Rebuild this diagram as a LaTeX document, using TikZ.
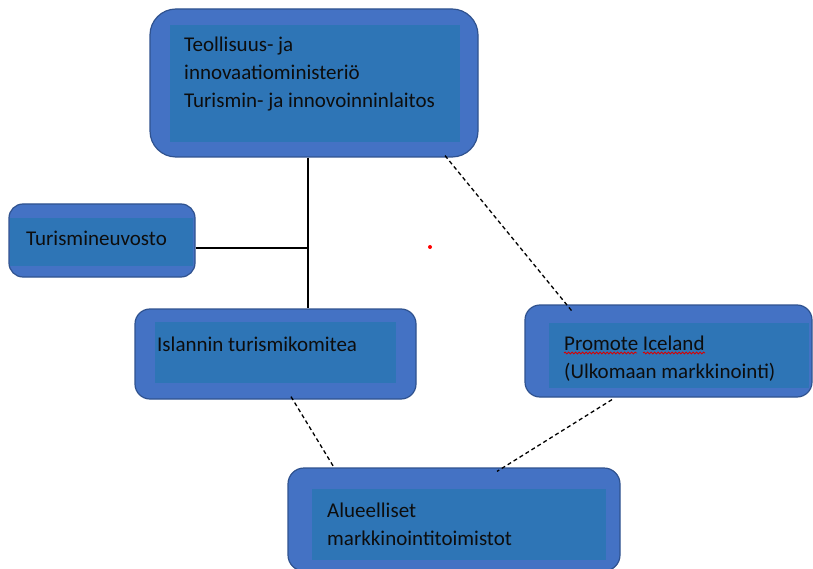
\documentclass[tikz,border=0pt]{standalone}
\usepackage{fontspec}
\setmainfont{Carlito}
\usetikzlibrary{calc,decorations.pathmorphing}
\definecolor{outerfill}{HTML}{4472C4}
\definecolor{outerline}{HTML}{2F528F}
\definecolor{innerfill}{HTML}{2E75B6}
\definecolor{txt}{HTML}{0D0D0D}
\tikzset{
  outerbox/.style={draw=outerline, line width=1.2pt, fill=outerfill, rectangle, inner sep=0pt},
  innerbox/.style={fill=innerfill, rectangle, inner sep=0pt},
  label/.style={anchor=north west, inner sep=0pt, align=left, text=txt, font=\fontsize{21}{28}\selectfont},
  solidline/.style={line width=1.8pt, black},
  dashline/.style={line width=1.3pt, black, dash pattern=on 4pt off 3pt},
  squiggle/.style={red!85!black, line width=0.9pt, decorate, decoration={snake, amplitude=0.9pt, segment length=3.5pt}}
}
\begin{document}
\begin{tikzpicture}[x=1pt,y=-1pt]
\useasboundingbox (0,0) rectangle (813,569);
% outer boxes
\node[outerbox, rounded corners=26pt, minimum width=328pt, minimum height=148pt] (top) at (314,83) {};
\node[outerbox, rounded corners=14pt, minimum width=186pt, minimum height=73pt] (tn) at (102,240.5) {};
\node[outerbox, rounded corners=15pt, minimum width=281pt, minimum height=90pt] (isl) at (275.5,354) {};
\node[outerbox, rounded corners=15pt, minimum width=287pt, minimum height=92pt] (prom) at (668.5,351) {};
\node[outerbox, rounded corners=16pt, minimum width=332pt, minimum height=103pt] (alu) at (454,519.5) {};
% inner rectangles
\node[innerbox, minimum width=290pt, minimum height=117pt] (topi) at (315,83.5) {};
\node[innerbox, minimum width=183pt, minimum height=48pt] (tni) at (101.5,242) {};
\node[innerbox, minimum width=241pt, minimum height=61pt] (isli) at (275.5,352.5) {};
\node[innerbox, minimum width=260pt, minimum height=65pt] (promi) at (679,355.5) {};
\node[innerbox, minimum width=294pt, minimum height=71pt] (alui) at (459,524.5) {};
% texts
\node[label] (topt) at (184,37) {Teollisuus- ja\\innovaatioministeriö\\Turismin- ja innovoinninlaitos};
\node[label] (tnt) at (26,231) {Turismineuvosto};
\node[label] (islt) at (157,337) {Islannin turismikomitea};
\node[label] (promt) at (564,336) {Promote Iceland\\(Ulkomaan markkinointi)};
\node[label] (alut) at (327,503) {Alueelliset\\markkinointitoimistot};
% spell-check squiggles
\draw[squiggle] ($(promt.north west)+(0,17)$) -- ++(73,0);
\draw[squiggle] ($(promt.north west)+(79,17)$) -- ++(62,0);
% solid connectors
\coordinate (j) at (308,248);
\draw[solidline] (top.south -| j) -- (isl.north -| j);
\draw[solidline] (tn.east |- j) -- (j);
% dashed connectors
\draw[dashline] ($(top.south)+(131,-2)$) -- ($(prom.north)+(-95.5,8)$);
\draw[dashline] ($(isl.south)+(15.5,-3)$) -- ($(alu.north)+(-120,0)$);
\draw[dashline] ($(prom.south)+(-56.5,2)$) -- ($(alu.north)+(43,4)$);
% red dot
\fill[red] (430,247) circle (2pt);
\end{tikzpicture}
\end{document}
